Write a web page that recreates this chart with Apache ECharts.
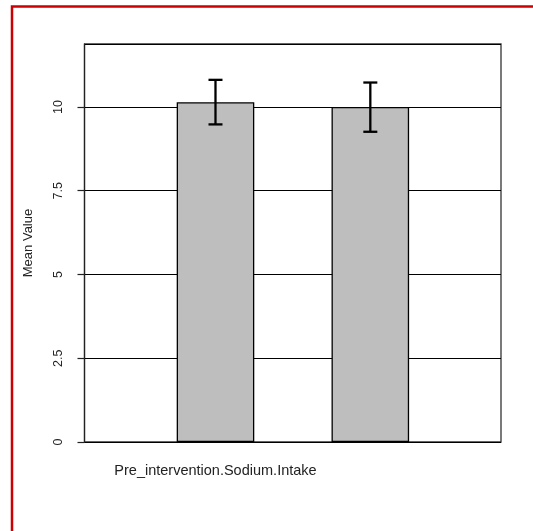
<!DOCTYPE html>
<html><head><meta charset="utf-8">
<script src="https://cdn.jsdelivr.net/npm/echarts@6/dist/echarts.min.js"></script>
<style>html,body{margin:0;padding:0;background:#fff}#c{width:533px;height:531px}</style>
</head><body><div id="c"></div>
<script>
// ---- data ----
const categories = ["Pre_intervention.Sodium.Intake", ""];
const means = [10.14, 10.0];
const errLow = [9.48, 9.26];
const errHigh = [10.81, 10.73];
const yTickLabels = ["0", "2.5", "5", "7.5", "10"];

const chart = echarts.init(document.getElementById('c'), null, {renderer: 'canvas'});
const FONT = 'Liberation Sans, Arial, Helvetica, sans-serif';

const barData = means.map((v, i) => [i + 1, v]);
const errData = means.map((v, i) => [i + 1, errLow[i], errHigh[i]]);

chart.setOption({
  animation: false,
  backgroundColor: '#fff',
  graphic: [{
    type: 'rect', silent: true, z: 100,
    shape: {x: 12, y: 6.5, width: 700, height: 700},
    style: {fill: 'none', stroke: '#cc0000', lineWidth: 2.5}
  }],
  grid: {left: 84.5, top: 44, right: 32, bottom: 89, show: true,
         borderColor: '#333', borderWidth: 1.3, backgroundColor: 'transparent'},
  xAxis: {
    type: 'value', min: 0.154, max: 2.844,
    axisLine: {show: false}, axisTick: {show: false}, splitLine: {show: false},
    axisLabel: {
      customValues: [1],
      formatter: v => categories[Math.round(v) - 1] || '',
      fontFamily: FONT, fontSize: 14.5, color: '#222', margin: 21
    }
  },
  yAxis: {
    type: 'value', min: 0, max: 11.88, interval: 2.5,
    name: 'Mean Value', nameLocation: 'middle', nameGap: 50, nameRotate: 90,
    nameTextStyle: {fontFamily: FONT, fontSize: 13, color: '#222'},
    axisLine: {show: true, lineStyle: {color: '#222', width: 1.2}},
    axisTick: {show: true, inside: false, length: 7, lineStyle: {color: '#222', width: 1.2}},
    splitLine: {show: true, lineStyle: {color: '#000', width: 1.2}},
    axisLabel: {
      rotate: 90, showMaxLabel: false, fontFamily: FONT, fontSize: 12.5, color: '#222', margin: 19,
      formatter: v => { const i = Math.round(v / 2.5); return yTickLabels[i] !== undefined ? yTickLabels[i] : ''; }
    }
  },
  series: [{
    type: 'bar', data: barData, barWidth: 77.6,
    itemStyle: {color: '#bebebe', borderColor: '#000', borderWidth: 1.3}
  }, {
    type: 'custom', data: errData, z: 5,
    renderItem: (params, api) => {
      const x = api.value(0);
      const lo = api.coord([x, api.value(1)]);
      const hi = api.coord([x, api.value(2)]);
      const hw = 7;
      const st = {stroke: '#000', lineWidth: 2.3};
      return {type: 'group', children: [
        {type: 'line', shape: {x1: lo[0], y1: lo[1], x2: hi[0], y2: hi[1]}, style: st},
        {type: 'line', shape: {x1: lo[0] - hw, y1: lo[1], x2: lo[0] + hw, y2: lo[1]}, style: st},
        {type: 'line', shape: {x1: hi[0] - hw, y1: hi[1], x2: hi[0] + hw, y2: hi[1]}, style: st}
      ]};
    }
  }]
});
</script>
</body></html>
